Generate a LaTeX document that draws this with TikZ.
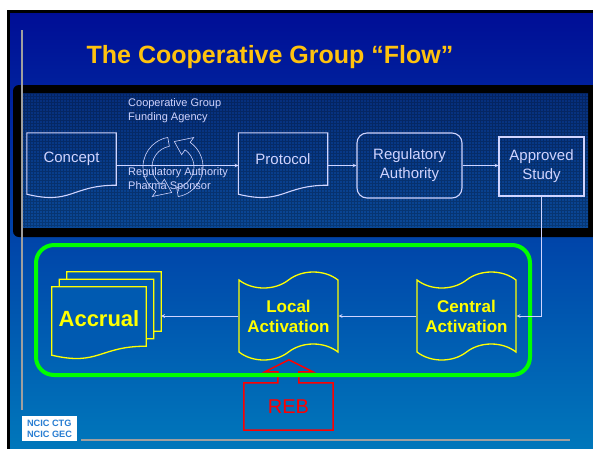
\documentclass[tikz,border=0pt]{standalone}
\usepackage{fontspec}
\setmainfont{Liberation Sans}
\usetikzlibrary{calc,shapes.symbols}

\definecolor{slidetop}{RGB}{0,14,150}
\definecolor{slidebottom}{RGB}{0,122,188}
\definecolor{bandtop}{RGB}{6,46,124}
\definecolor{bandbottom}{RGB}{10,72,150}
\definecolor{pale}{RGB}{208,212,255}
\definecolor{gold}{RGB}{255,194,14}
\definecolor{lemon}{RGB}{255,255,0}
\definecolor{lime}{RGB}{0,255,0}
\definecolor{pagefill}{RGB}{0,90,177}
\definecolor{ncicblue}{RGB}{40,125,210}

% page with a wavy lower edge, hanging under a text node (#1: shift)
\newcommand{\docoutline}[3][]{%
  \draw[#2] ([#1]#3.north west) -- ([#1]#3.north east) -- ([#1]#3.south east)
    .. controls ([#1]#3.south) and ([#1,yshift=-20pt]#3.south) .. ([#1,yshift=-9pt]#3.south west) -- cycle;}

% one bent block arrow of the review cycle, from angle #1 to #2
\newcommand{\cyclearrow}[2]{%
  \draw[outline,line width=0.6pt] (#1:30) arc[start angle=#1,end angle=#2,radius=30]
    -- (#2:36) -- (#2+32:25.5) -- (#2:15) -- (#2:21)
    arc[start angle=#2,end angle=#1,radius=21] -- cycle;}

\tikzset{
  outline/.style={draw=pale,line width=1.1pt},
  flow/.style={draw=pale,line width=0.7pt,-stealth},
  bandtext/.style={text=pale,font=\fontsize{15}{19}\selectfont},
  docbox/.style={bandtext,minimum width=89,minimum height=52,inner sep=0},
  authbox/.style={outline,bandtext,rounded corners=10,minimum width=105,minimum height=65,align=center},
  studybox/.style={outline,bandtext,minimum width=85,minimum height=59,align=center},
  note/.style={anchor=west,align=left,inner sep=0,text=pale,font=\fontsize{11}{14}\selectfont},
  tapebox/.style={tape,draw=lemon,line width=1.3pt,minimum width=99,minimum height=88,
    tape bend height=16,align=center,text=lemon,font=\bfseries\fontsize{17}{20}\selectfont},
  pagebox/.style={minimum width=94,minimum height=59,inner sep=0},
  pageline/.style={draw=lemon,line width=1.3pt,fill=pagefill},
  rebbox/.style={minimum width=89,minimum height=47,text=red,font=\fontsize{20}{24}\selectfont},
  rebline/.style={draw=red,line width=1.5pt},
  frame/.style={draw=lime,line width=4pt,rounded corners=18},
  rule/.style={draw=gray!75,line width=1.8pt},
}

\begin{document}
\begin{tikzpicture}[x=1pt,y=-1pt]
  \useasboundingbox (0,0) rectangle (593,448);
  \fill[white] (0,0) rectangle (593,448);

  % slide background
  \fill[black] (7,10) rectangle (600,460);
  \shade[top color=slidetop,bottom color=slidebottom] (10,13) rectangle (600,460);

  % dark band of the approval steps
  \fill[black,rounded corners=6] (13,85) rectangle (610,237);
  \shade[top color=bandtop,bottom color=bandbottom] (21,93) rectangle (588,227);
  \draw[step=3pt,black,opacity=0.22,line width=0.5pt] (21,227) grid (588,93);

  \draw[rule] (22,30) -- (22,410);
  \draw[rule] (81,440) -- (570,440);

  \node[text=gold,font=\bfseries\fontsize{25}{30}\selectfont] (title) at (270,57) {The Cooperative Group “Flow”};

  % approval steps
  \node[docbox] (concept) at (71.5,159) {Concept};
  \node[docbox] (protocol) at (283,159) {Protocol};
  \node[authbox] (authority) at (409.5,165.5) {Regulatory\\Authority};
  \node[studybox] (study) at (541.5,166.5) {Approved\\Study};
  \docoutline{outline}{concept}
  \docoutline{outline}{protocol}

  \begin{scope}[shift={(173,167)},yscale=-1]
    \cyclearrow{-80}{55}
    \cyclearrow{100}{235}
  \end{scope}
  \node[note] (funders) at (128,111) {Cooperative Group\\Funding Agency};
  \node[note] (sponsors) at (128,180) {Regulatory Authority\\Pharma Sponsor};

  \draw[flow] (concept.east |- authority.west) -- (protocol.west |- authority.west);
  \draw[flow] (protocol.east |- authority.west) -- (authority.west);
  \draw[flow] (authority.east) -- (study.west |- authority.east);

  % ethics board under the local site
  \node[rebbox] (reb) at (288.5,406.5) {REB};
  \draw[rebline] (reb.north west) -- ++(34,0) -- ++(0,-11) -- ++(-13,0) -- ++(24,-12)
    -- ++(24,12) -- ++(-14,0) -- ++(0,11) -- (reb.north east) -- (reb.south east)
    -- (reb.south west) -- cycle;

  % activation steps
  \draw[frame] (36,245) rectangle (530,375);
  \node[tapebox] (central) at (466.5,316) {Central\\Activation};
  \node[tapebox] (local) at (288.5,316) {Local\\Activation};

  % stack of pages, front one drawn from the middle one
  \node[pagebox] (accrualback) at (114,301.5) {};
  \node[pagebox] (accrualmid) at (106.5,309) {};
  \docoutline{pageline}{accrualback}
  \docoutline{pageline}{accrualmid}
  \docoutline[shift={(-7.5,7.5)}]{pageline}{accrualmid}
  \node[pagebox,text=lemon,font=\bfseries\fontsize{22}{26}\selectfont] (accrual) at (99,319) {Accrual};

  \draw[flow] (study.south) |- (central.east);
  \draw[flow] (central.west) -- (local.east);
  \draw[flow] (local.west) -- (accrualback.east |- local.west);

  \node[fill=white,minimum width=55,minimum height=25,inner sep=1,align=left,
    text=ncicblue,font=\bfseries\fontsize{9.2}{11}\selectfont] (ncic) at (49.5,428.5) {NCIC CTG\\NCIC GEC};
\end{tikzpicture}
\end{document}
